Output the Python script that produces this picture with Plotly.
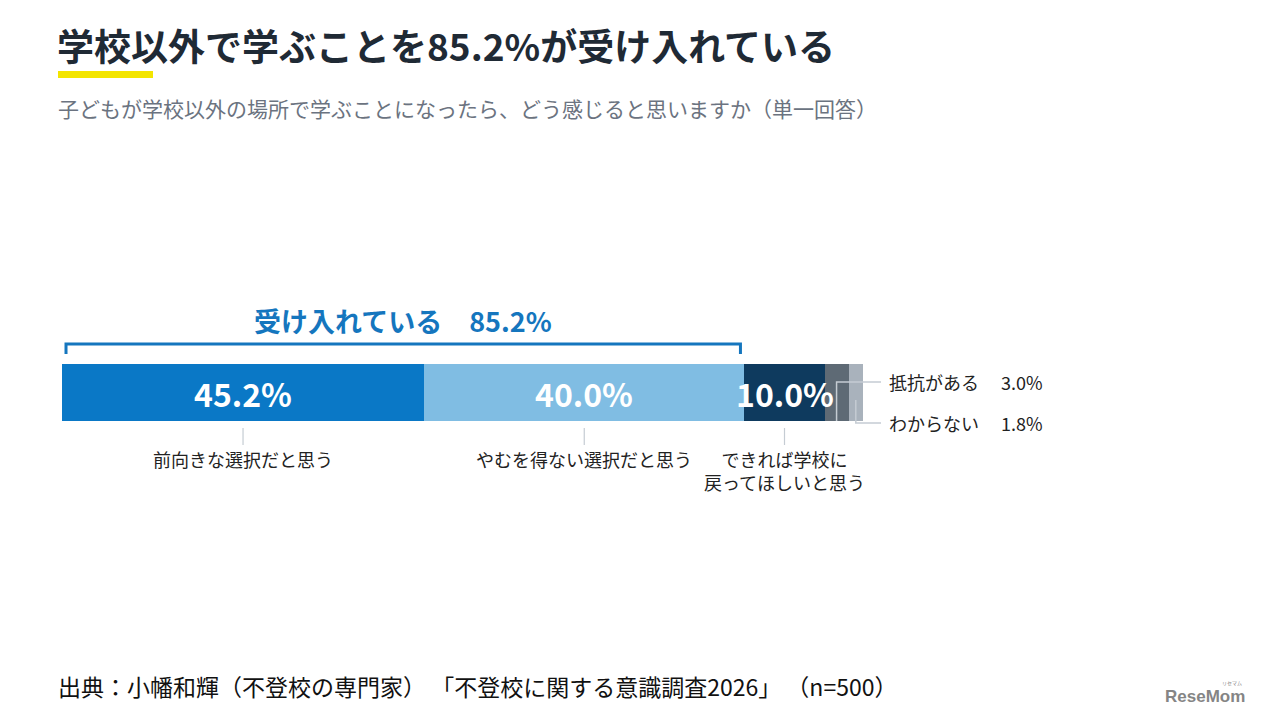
import plotly.graph_objects as go

# ---- data ----
categories = ["前向きな選択だと思う", "やむを得ない選択だと思う", "できれば学校に<br>戻ってほしいと思う", "抵抗がある", "わからない"]
values = [45.2, 40.0, 10.0, 3.0, 1.8]
colors = ["#0a78c6", "#80bde3", "#0e3a5e", "#5e6a75", "#a9b2bc"]
accept_label = "受け入れている　85.2%"
accept_total = 85.2

title = "学校以外で学ぶことを85.2%が受け入れている"
subtitle = "子どもが学校以外の場所で学ぶことになったら、どう感じると思いますか（単一回答）"
source = "出典：小幡和輝（不登校の専門家） 「不登校に関する意識調査2026」 （n=500）"

FONT = "Noto Sans CJK JP"
OFF = 8  # page body margin
W, H = 1264, 703
L = 62 - OFF
T = 364 - OFF
R = W - (863 - OFF)
B = H - (421 - OFF)
PW = W - L - R
PH = H - T - B


def px(x):
    return (x - OFF - L) / PW


def py(y):
    return (H - B - (y - OFF)) / PH


def xpx(pct):
    return L + OFF + pct / 100 * PW


fig = go.Figure()
starts = []
acc = 0
for cat, v, c in zip(categories, values, colors):
    starts.append(acc)
    fig.add_trace(go.Bar(x=[v], y=[0], orientation="h", marker=dict(color=c, line=dict(width=0)),
                         name=cat, width=1, hoverinfo="skip", showlegend=False))
    acc += v
centers = [s + v / 2 for s, v in zip(starts, values)]

ann = []
shapes = []

# percentage labels inside big segments
for i in range(3):
    ann.append(dict(x=centers[i], y=0, xref="x", yref="y", text=f"{values[i]:.1f}%", showarrow=False,
                    font=dict(family=FONT, size=32, color="white", weight="bold"), xanchor="center", yanchor="middle"))

# category labels below bar with tick lines
for i in range(3):
    shapes.append(dict(type="line", xref="x", yref="paper", x0=centers[i], x1=centers[i], y0=py(428), y1=py(445),
                       line=dict(color="#c5ccd3", width=1.2)))
    ann.append(dict(x=centers[i], y=py(444), xref="x", yref="paper", text=categories[i], showarrow=False,
                    font=dict(family=FONT, size=18, color="#222"), xanchor="center", yanchor="top",
                    align="center"))

# small segments: leader lines and right labels
leader_y = [382, 423]
leader_start = [421, 400]
for k, i in enumerate([3, 4]):
    cx = xpx(centers[i])
    shapes.append(dict(type="path", xref="paper", yref="paper",
                       path=f"M {px(cx)} {py(leader_start[k])} L {px(cx)} {py(leader_y[k])} L {px(881)} {py(leader_y[k])}",
                       line=dict(color="#c5ccd3", width=1.5)))
    ann.append(dict(x=px(887), y=py(leader_y[k]), xref="paper", yref="paper", text=categories[i], showarrow=False,
                    font=dict(family=FONT, size=18, color="#222"), xanchor="left", yanchor="middle"))
    ann.append(dict(x=px(999), y=py(leader_y[k]), xref="paper", yref="paper", text=f"{values[i]:.1f}%",
                    showarrow=False, font=dict(family=FONT, size=18, color="#222"), xanchor="left", yanchor="middle"))

# bracket
bx0 = px(xpx(0.5))
bx1 = px(xpx(accept_total - 0.5))
shapes.append(dict(type="path", xref="paper", yref="paper",
                   path=f"M {bx0} {py(354)} L {bx0} {py(344)} L {bx1} {py(344)} L {bx1} {py(354)}",
                   line=dict(color="#1576be", width=3)))
ann.append(dict(x=(bx0 + bx1) / 2, y=py(320), xref="paper", yref="paper", text=accept_label, showarrow=False,
                font=dict(family=FONT, size=27, color="#1576be", weight="bold"), xanchor="center", yanchor="middle"))

# title block
ann.append(dict(x=px(55), y=py(45), xref="paper", yref="paper", text=title, showarrow=False,
                font=dict(family=FONT, size=37, color="#1f2a35", weight="bold"), xanchor="left", yanchor="middle"))
shapes.append(dict(type="rect", xref="paper", yref="paper", x0=px(58), x1=px(153), y0=py(78), y1=py(71),
                   fillcolor="#f3e500", line=dict(width=0)))
ann.append(dict(x=px(56), y=py(108), xref="paper", yref="paper", text=subtitle, showarrow=False,
                font=dict(family=FONT, size=21, color="#6b7380"), xanchor="left", yanchor="middle"))
ann.append(dict(x=px(56), y=py(686), xref="paper", yref="paper", text=source, showarrow=False,
                font=dict(family=FONT, size=23, color="#111"), xanchor="left", yanchor="middle"))
ann.append(dict(x=px(1205), y=py(696), xref="paper", yref="paper", text="ReseMom", showarrow=False,
                font=dict(family="Liberation Sans", size=17, color="#858585", weight="bold"),
                xanchor="center", yanchor="middle"))
ann.append(dict(x=px(1232), y=py(683), xref="paper", yref="paper", text="リセマム", showarrow=False,
                font=dict(family=FONT, size=5, color="#858585"), xanchor="center", yanchor="middle"))

fig.update_layout(
    barmode="stack",
    width=W, height=H,
    margin=dict(l=L, r=R, t=T, b=B),
    paper_bgcolor="white", plot_bgcolor="white",
    xaxis=dict(range=[0, 100], visible=False, fixedrange=True),
    yaxis=dict(range=[-0.5, 0.5], visible=False, fixedrange=True),
    annotations=ann, shapes=shapes,
    bargap=0,
)
fig.write_html("out.html", config={"displayModeBar": False})
